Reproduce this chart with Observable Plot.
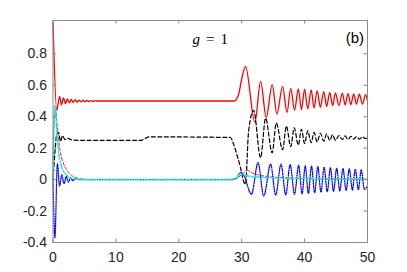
<!DOCTYPE html>
<html><head><meta charset="utf-8">
<script src="https://cdn.jsdelivr.net/npm/d3@7"></script>
<script src="https://cdn.jsdelivr.net/npm/@observablehq/plot@0.6"></script>
<style>body{margin:0;background:#fff} svg{display:block}</style>
</head><body><div id="chart"></div>
<script>
// ---- data ----
const xTicks = [0, 10, 20, 30, 40, 50];
const yTicks = [-0.4, -0.2, 0, 0.2, 0.4, 0.6, 0.8];
const titleText = "g = 1";
const panelText = "(b)";

const redT = [0,0.6,1.05,1.35,1.67,1.98,2.29,2.6,2.91,3.22,3.53,3.84,4.15,4.46,4.77,5.08,5.39,5.7,6.01,6.32,6.63,7.0,
  28.8,29.5,30.0,30.6,32.1,33.0,33.9,34.85,35.6,36.5,37.2,37.8,38.4,39.0,39.5,40.0,40.5,41.05,41.5,42.0,42.5,43.05,43.5,44.0,
  44.45,44.9,45.45,46.0,46.45,46.9,47.35,47.8,48.25,48.7,49.2,49.7,50];
const redV = [1.0,0.44,0.53,0.475,0.52,0.483,0.514,0.488,0.51,0.491,0.508,0.493,0.506,0.494,0.505,0.495,0.504,0.496,0.503,0.497,0.502,0.5,
  0.5,0.54,0.64,0.72,0.364,0.625,0.395,0.604,0.417,0.593,0.427,0.58,0.44,0.577,0.445,0.575,0.45,0.57,0.455,0.565,0.46,0.56,0.465,0.555,
  0.47,0.552,0.472,0.55,0.475,0.547,0.477,0.545,0.48,0.543,0.48,0.54,0.5];

const blackT = [0,0.3,0.6,0.88,1.2,1.5,1.9,2.4,3.0,4.0,14.0,15.3,28.2,28.7,29.3,29.8,30.3,30.6,31.1,31.9,
  33.0,33.8,34.85,35.5,36.5,37.1,37.8,38.35,39.0,39.5,40.0,40.5,41.05,41.5,42.0,42.5,43.05,43.5,44.0,44.45,
  44.9,45.45,46.0,46.45,46.9,47.35,47.8,48.25,48.7,49.2,49.7,50];
const blackV = [0,0.17,0.29,0.3,0.243,0.28,0.255,0.262,0.252,0.25,0.25,0.272,0.268,0.226,0.15,0.077,-0.01,-0.03,0.31,0.44,
  0.14,0.39,0.17,0.36,0.19,0.34,0.21,0.33,0.22,0.32,0.23,0.31,0.235,0.3,0.24,0.295,0.245,0.29,0.25,0.285,
  0.25,0.28,0.255,0.278,0.255,0.275,0.257,0.273,0.258,0.272,0.26,0.265];

const blueT = [0,0.3,0.7,1.05,1.4,1.75,2.1,2.45,2.8,3.15,3.5,4.0,28.3,29.2,29.8,30.3,
  31.55,32.6,33.5,34.6,35.4,36.25,37.0,37.7,38.4,39.05,39.6,40.1,40.6,41.1,41.6,42.1,42.6,43.1,43.6,44.1,
  44.6,45.1,45.6,46.1,46.6,47.1,47.6,48.05,48.55,49.0,49.5,50];
const blueV = [0,-0.37,0.1,-0.04,0.03,-0.025,0.02,-0.015,0.01,-0.006,0.004,0,0,0.01,0.045,0.03,
  -0.093,0.108,-0.104,0.098,-0.098,0.098,-0.097,0.095,-0.093,0.09,-0.09,0.087,-0.087,0.085,-0.083,0.082,-0.08,0.078,-0.077,0.075,
  -0.074,0.072,-0.071,0.07,-0.068,0.068,-0.066,0.065,-0.064,0.063,-0.062,-0.04];

const redDashT = [0,0.15,0.4,0.7,1.1,1.6,2.2,3.0,4.0,5.0,6.0,28.5,29.5,30.3,30.9,31.5,32.2,34,37,42,50];
const redDashV = [0,0.35,0.45,0.33,0.19,0.11,0.06,0.025,0.008,0.002,0,0,0.015,0.045,0.06,0.045,0.035,0.02,0.012,0.005,0.002];

const cyanT = [0,0.12,0.3,0.6,0.9,1.3,1.8,2.5,3.3,4.2,5.0,28.5,29.2,29.8,30.5,31.5,33,36,42,50];
const cyanV = [0,0.32,0.47,0.3,0.17,0.09,0.045,0.018,0.006,0.001,0,0,0.012,0.035,0.028,0.02,0.015,0.01,0.006,0.004];

// ---- layout ----
const W = 407, H = 272, mL = 52.5, mR = 40, mT = 20, mB = 30;
const pw = W - mL - mR, ph = H - mT - mB;
const axisColor = "#8a8a8a";
const tickLen = 3.5;

const chart = Plot.plot({
  width: W, height: H,
  marginLeft: mL, marginRight: mR, marginTop: mT, marginBottom: mB,
  style: {fontFamily: "'Liberation Sans', Arial, sans-serif", fontSize: "14px", background: "white", color: "#262626", overflow: "visible"},
  x: {domain: [0, 50]},
  y: {domain: [-0.4, 1.012]},
  marks: [
    Plot.line(redT, {x: redT, y: redV, stroke: "#ff0000", strokeWidth: 1.3, curve: "monotone-x"}),
    Plot.line(blackT, {x: blackT, y: blackV, stroke: "#000000", strokeWidth: 1.2, strokeDasharray: "4,2.5", curve: "monotone-x"}),
    Plot.line(blueT, {x: blueT, y: blueV, stroke: "#0000ff", strokeWidth: 1.3, strokeDasharray: "1,1.4", curve: "monotone-x"}),
    Plot.line(redDashT, {x: redDashT, y: redDashV, stroke: "#ff0000", strokeWidth: 0.9, strokeDasharray: "3,2", curve: "monotone-x"}),
    Plot.line(cyanT, {x: cyanT, y: cyanV, stroke: "#00f0f0", strokeWidth: 1.5, strokeDasharray: "5,2,1.2,2", curve: "monotone-x"}),
    Plot.frame({stroke: axisColor}),
    Plot.tickX(xTicks, {x: d => d, insetTop: ph - tickLen, stroke: axisColor}),
    Plot.tickX(xTicks, {x: d => d, insetBottom: ph - tickLen, stroke: axisColor}),
    Plot.tickY(yTicks, {y: d => d, insetRight: pw - tickLen, stroke: axisColor}),
    Plot.tickY(yTicks, {y: d => d, insetLeft: pw - tickLen, stroke: axisColor}),
    Plot.axisX({ticks: xTicks, tickSize: 0, tickPadding: 10, tickFormat: d => String(d), label: null, fill: "#262626"}),
    Plot.axisY({ticks: yTicks, tickSize: 0, tickPadding: 6, tickFormat: d => String(d), label: null, fill: "#262626"}),
    Plot.text([titleText], {frameAnchor: "top", dy: 13, text: d => d, fontSize: 15, fontFamily: "'Liberation Serif', 'Times New Roman', serif", fill: "#000"}),
    Plot.text([panelText], {frameAnchor: "top-right", textAnchor: "end", dx: -3.5, dy: 11.7, text: d => d, fontSize: 15, fill: "#000"})
  ]
});
document.getElementById("chart").appendChild(chart);

// italic g with math-like spacing around "="
d3.select(chart).selectAll("text").filter(function() { return this.textContent === titleText; }).each(function() {
  const t = d3.select(this);
  const parts = titleText.split(" ");
  t.text(null);
  t.append("tspan").attr("font-style", "italic").text(parts[0]);
  t.append("tspan").attr("dx", 6).text(parts[1]);
  t.append("tspan").attr("dx", 6).text(parts[2]);
});
</script>
</body></html>
